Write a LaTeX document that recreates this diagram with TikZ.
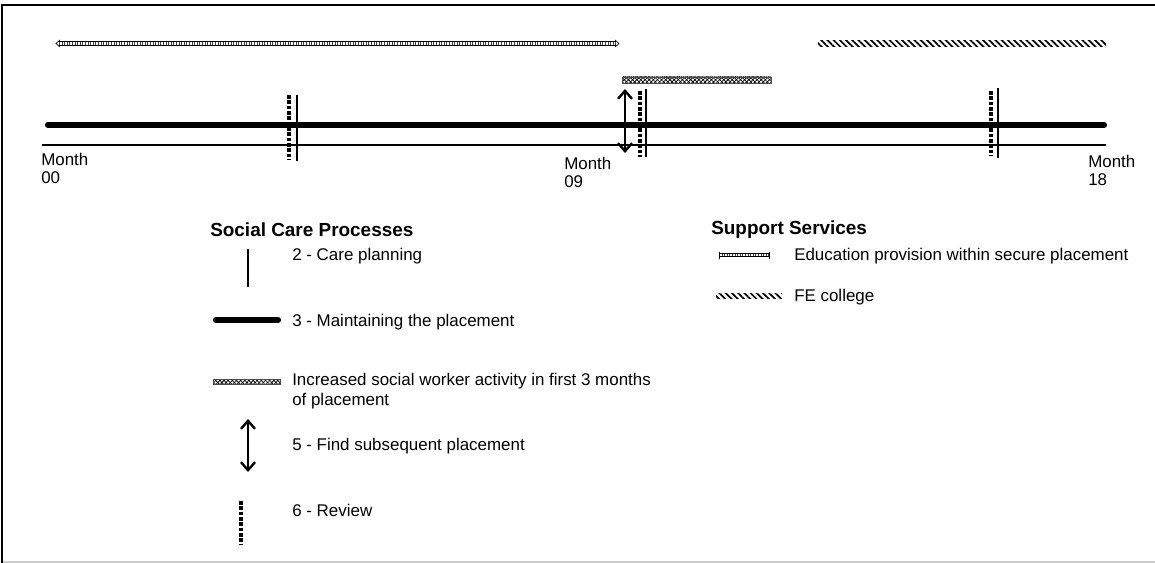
\documentclass[tikz,border=0pt]{standalone}
\usepackage{fontspec}
\setmainfont{Liberation Sans}
\usetikzlibrary{arrows.meta,patterns.meta}
\begin{document}
\begin{tikzpicture}[x=0.75pt,y=-0.75pt,
  lbl/.style={anchor=west,inner sep=0pt,font=\fontsize{12.7pt}{14.8pt}\selectfont},
  month/.style={anchor=north west,inner sep=0pt,align=left,font=\fontsize{12.7pt}{13.6pt}\selectfont},
  head/.style={anchor=west,inner sep=0pt,font=\fontsize{14.2pt}{16pt}\selectfont\bfseries},
  careplan/.style={line width=1.6pt},
  placement/.style={line width=4.6pt,line cap=round},
  baseline/.style={line width=1.6pt},
  review/.style={line width=3.2pt,dash pattern=on 2.8pt off 1.2pt},
  findnext/.style={line width=1.8pt,{Straight Barb[length=6pt,width=10.5pt,line width=1.8pt]}-{Straight Barb[length=6pt,width=10.5pt,line width=1.8pt]}},
  swbar/.style={draw=black!70,line width=0.3pt,pattern={Hatch[angle=45,distance=2.2pt,line width=0.55pt]}},
  febar/.style={pattern={Lines[angle=-45,distance=3.3pt,line width=1.3pt]}},
  edurail/.style={line width=0.5pt},
  edutick/.style={line width=2.6pt,dash pattern=on 0.45pt off 1.5pt,black!75},
  edutip/.style={line width=0.5pt}
]
\useasboundingbox (0,0) rectangle (1155,563);
% frame
\draw[black!20,line width=1pt] (2,562) -- (1155,562);
\draw[line width=1.6pt] (2,563) -- (2,5) -- (1155,5);

% ---- timeline ----
\coordinate (pA) at (48,125);
\coordinate (pB) at (1104,125);
\draw[placement] (pA) -- (pB);
\coordinate (tA) at (42,145);
\coordinate (tB) at (1106,145);
\draw[baseline] (tA) -- (tB);

\node[month] (m00) at (41,153) {Month\\00};
\node[month] (m09) at (564,157) {Month\\09};
\node[month] (m18) at (1088,155) {Month\\18};

% care planning marks
\draw[careplan] (297,95) -- (297,161);
\draw[careplan] (646,89) -- (646,157);
\draw[careplan] (998,88) -- (998,158);
% reviews
\draw[review] (289,95) -- (289,160);
\draw[review] (640,91) -- (640,157);
\draw[review] (991,91) -- (991,156);
% find subsequent placement
\coordinate (fa) at (625,89);
\coordinate (fb) at (625,153);
\draw[findnext] (fb) -- (fa);

% increased social worker activity
\draw[swbar] (622,77) rectangle (771,83);

% education provision (top)
\draw[edutick] (59,43.5) -- (616,43.5);
\draw[edurail] (59,41.8) -- (616,41.8) (59,45.2) -- (616,45.2);
\draw[edutip] (60,40) -- (56,43.5) -- (60,47);
\draw[edutip] (615,40) -- (619,43.5) -- (615,47);
% FE college
\fill[febar] (818,41) rectangle (1106,47);

% ---- legend: social care processes ----
\node[head] (hsc) at (210,230) {Social Care Processes};
\draw[careplan] (248,249) -- (248,287);
\node[lbl] (l2) at (292,256) {2 - Care planning};
\draw[placement] (216,320) -- (278,320);
\node[lbl] (l3) at (292,322) {3 - Maintaining the placement};
\draw[swbar] (213,379) rectangle (280,384);
\node[lbl,anchor=north west,align=left] (l4) at (292,373) {Increased social worker activity in first 3 months\\of placement};
\coordinate (ka) at (248,419);
\coordinate (kb) at (248,472);
\draw[findnext] (kb) -- (ka);
\node[lbl] (l5) at (292,446) {5 - Find subsequent placement};
\draw[review] (241,501) -- (241,545);
\node[lbl] (l6) at (292,510) {6 - Review};

% ---- legend: support services ----
\node[head] (hss) at (711,230) {Support Services};
\draw[edutick] (719,255) -- (769,255);
\draw[edurail] (719,253.3) -- (769,253.3) (719,256.7) -- (769,256.7);
\draw[edutip] (719,251.5) -- (719,258.5);
\draw[edutip] (769,251.5) -- (769,258.5);
\node[lbl] (e1) at (794,256) {Education provision within secure placement};
\fill[febar] (716,293) rectangle (782,298);
\node[lbl] (e2) at (794,297) {FE college};
\end{tikzpicture}
\end{document}
